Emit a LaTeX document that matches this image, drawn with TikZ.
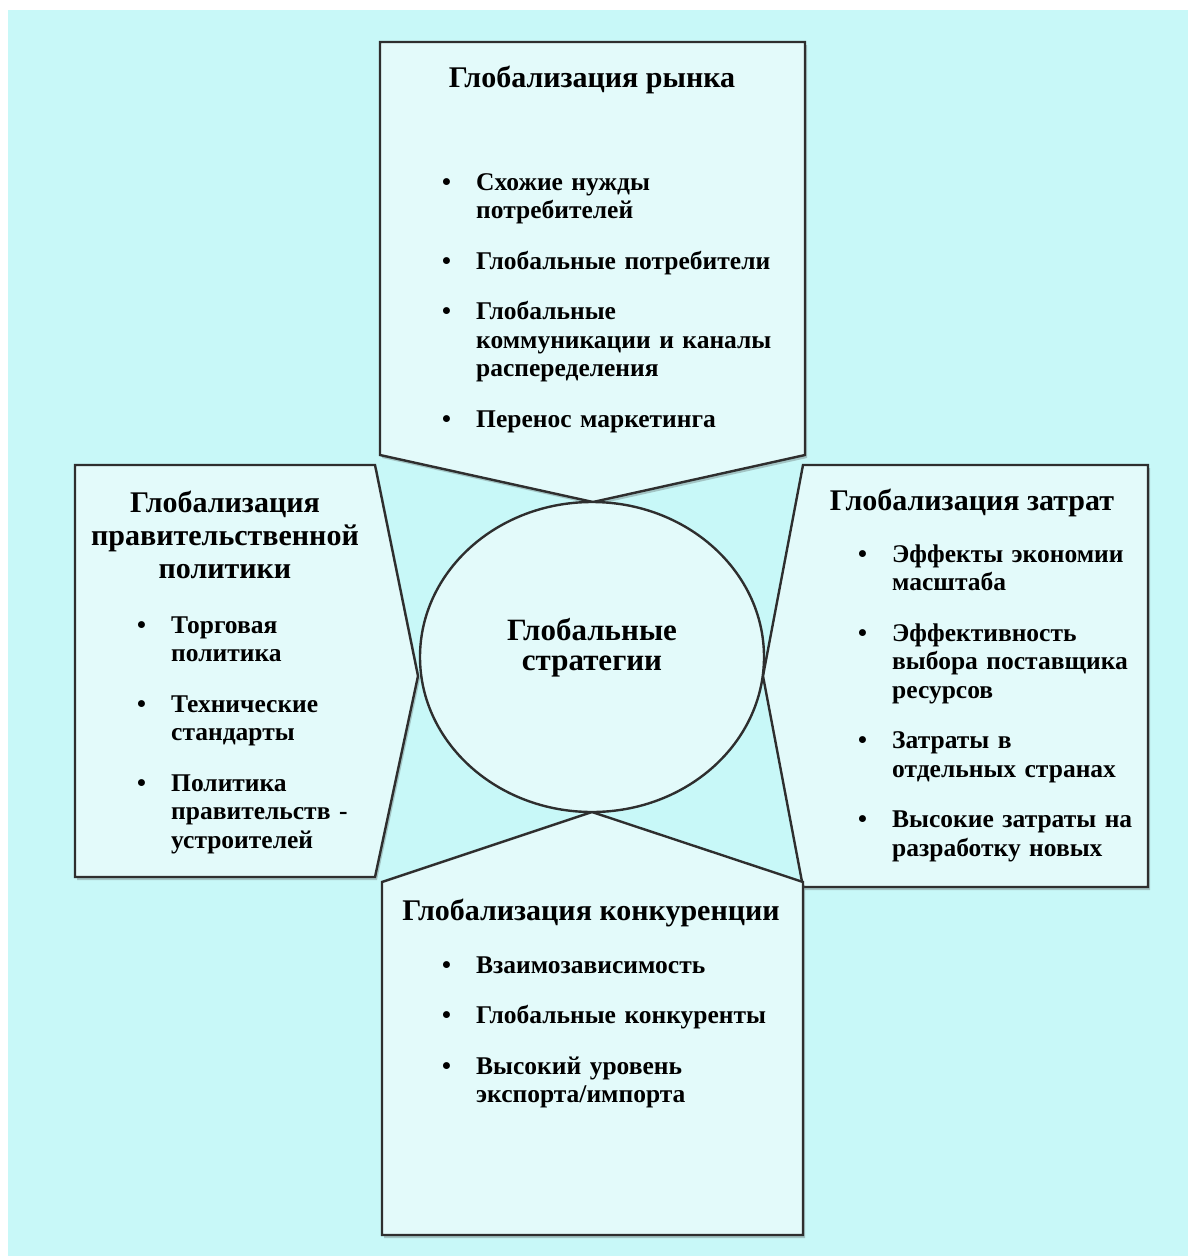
\documentclass[tikz,border=0pt]{standalone}
\usepackage{fontspec}
\setmainfont{Liberation Serif}
\usetikzlibrary{shapes.geometric,shadows}

\definecolor{bgcyan}{HTML}{C8F8F8}
\definecolor{boxfill}{HTML}{E3FAFA}
\definecolor{edgecol}{HTML}{2E2E2E}

% bullet list used inside the text nodes
\newcommand{\pointlist}[1]{%
  \begin{list}{\textbullet\hfill}{%
    \setlength{\leftmargin}{34pt}\setlength{\labelwidth}{34pt}%
    \setlength{\labelsep}{0pt}\setlength{\itemsep}{22pt}%
    \setlength{\parsep}{0pt}\setlength{\topsep}{0pt}%
    \setlength{\partopsep}{0pt}\setlength{\parskip}{0pt}}%
  #1\end{list}}

\begin{document}
\begin{tikzpicture}[x=1pt,y=-1pt,
  panel/.style={draw=edgecol,line width=2.4pt,fill=boxfill,line join=miter,
    drop shadow={shadow xshift=2pt,shadow yshift=-3pt,opacity=.3,fill=black!70}},
  heading/.style={font=\fontsize{30}{33}\selectfont\bfseries,align=center,inner sep=0pt},
  points/.style={font=\fontsize{25.5}{28.5}\selectfont\bfseries,text width=#1,
    align=left,inner sep=0pt,anchor=north west}]
  \useasboundingbox (0,0) rectangle (1188,1256);
  \fill[bgcyan] (8,10) rectangle (1188,1256);

  % four panels round the centre
  \draw[panel] (380,42) -- (805,42) -- (805,455) -- (593,502) -- (380,455) -- cycle;
  \draw[panel] (75,465) -- (375,465) -- (418,676) -- (375,877) -- (75,877) -- cycle;
  \draw[panel] (803,465) -- (1148,465) -- (1148,887) -- (803,887) -- (763,676) -- cycle;
  \draw[panel] (382,882) -- (592,812) -- (803,882) -- (803,1235) -- (382,1235) -- cycle;

  \node[ellipse,draw=edgecol,line width=2.4pt,fill=boxfill,minimum width=344pt,
    minimum height=310pt,inner sep=0pt] (core) at (592,657) {};
  \node[font=\fontsize{31}{30}\selectfont\bfseries,align=center,anchor=base] (coretext)
    at (592,670) {Глобальные\\стратегии};

  % market
  \node[heading,anchor=base] (markettitle) at (592,87) {Глобализация рынка};
  \node[points=360pt] (marketlist) at (442,161.5) {\pointlist{%
    \item Схожие нужды\\потребителей
    \item Глобальные потребители
    \item Глобальные\\коммуникации и каналы\\распеределения
    \item Перенос маркетинга}};

  % government
  \node[heading,anchor=base] (govtitle) at (225,578)
    {Глобализация\\правительственной\\политики};
  \node[points=240pt] (govlist) at (137,604.5) {\pointlist{%
    \item Торговая\\политика
    \item Технические\\стандарты
    \item Политика\\правительств -\\устроителей}};

  % costs
  \node[heading,anchor=base] (costtitle) at (972,510) {Глобализация затрат};
  \node[points=285pt] (costlist) at (858,533.5) {\pointlist{%
    \item Эффекты экономии\\масштаба
    \item Эффективность\\выбора поставщика\\ресурсов
    \item Затраты в\\отдельных странах
    \item Высокие затраты на\\разработку новых}};

  % competition
  \node[heading,anchor=base] (comptitle) at (591,920) {Глобализация конкуренции};
  \node[points=350pt] (complist) at (442,944.5) {\pointlist{%
    \item Взаимозависимость
    \item Глобальные конкуренты
    \item Высокий уровень\\экспорта/импорта}};
\end{tikzpicture}
\end{document}
